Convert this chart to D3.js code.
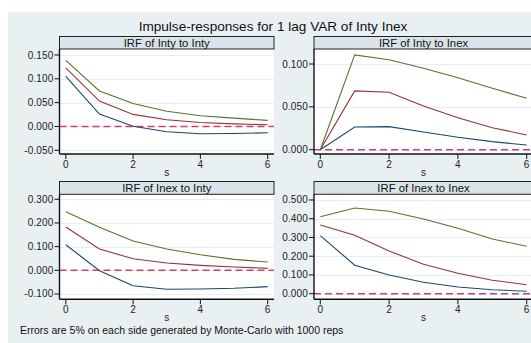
<!DOCTYPE html>
<meta charset="utf-8">
<head>
  <title>Impulse-responses</title>
</head>
<style>
body { margin: 0; background: #fff; }
svg { display: block; font-family: "Liberation Sans", Arial, sans-serif; }
.strip { fill: #d8e4ea; stroke: #222; stroke-width: 1; }
.grid { stroke: #e6eef1; stroke-width: 1; }
.axis { stroke: #111; stroke-width: 1.4; }
.tick { stroke: #111; stroke-width: 1; }
.ticklab { font-size: 10px; fill: #222; letter-spacing: 0.15px; }
.irf { fill: none; stroke-width: 1.1; }
.zero { stroke: #d2406a; stroke-width: 1.6; stroke-dasharray: 7,4; }
</style>
<body>
<svg width="531" height="343"></svg>
<script src="https://cdnjs.cloudflare.com/ajax/libs/d3/7.8.5/d3.min.js"></script>
<script>
// steps
var steps = [0, 1, 2, 3, 4, 5, 6];

// IRF of Inty to Inty
var irf11 = [0.123, 0.0534, 0.0253, 0.014, 0.0084, 0.0055, 0.0035];
var lo11  = [0.105, 0.026, 0.0006, -0.011, -0.0154, -0.0148, -0.0133];
var hi11  = [0.1386, 0.0745, 0.048, 0.032, 0.0225, 0.0175, 0.0127];

// IRF of Inty to Inex
var irf12 = [0, 0.0686, 0.067, 0.051, 0.0374, 0.0257, 0.0172];
var lo12  = [0, 0.0265, 0.0269, 0.0207, 0.0145, 0.0094, 0.0055];
var hi12  = [0, 0.1106, 0.105, 0.095, 0.084, 0.0717, 0.060];

// IRF of Inex to Inty
var irf21 = [0.183, 0.09, 0.049, 0.031, 0.021, 0.014, 0.0084];
var lo21  = [0.108, -0.0014, -0.065, -0.080, -0.079, -0.076, -0.069];
var hi21  = [0.2475, 0.1816, 0.1238, 0.090, 0.066, 0.0464, 0.035];

// IRF of Inex to Inex
var irf22 = [0.3666, 0.312, 0.228, 0.157, 0.109, 0.0715, 0.048];
var lo22  = [0.31, 0.152, 0.10, 0.061, 0.036, 0.021, 0.013];
var hi22  = [0.411, 0.457, 0.44, 0.399, 0.349, 0.292, 0.253];

var xTicks = [0, 2, 4, 6];
var yTicks11 = [-0.05, 0, 0.05, 0.1, 0.15];
var yTicks12 = [0, 0.05, 0.1];
var yTicks21 = [-0.1, 0, 0.1, 0.2, 0.3];
var yTicks22 = [0, 0.1, 0.2, 0.3, 0.4, 0.5];

var titles = ["IRF of Inty to Inty", "IRF of Inty to Inex", "IRF of Inex to Inty", "IRF of Inex to Inex"];

var svg = d3.select("svg");

// graph region
svg.append("rect").attr("x", 8).attr("y", 12).attr("width", 523).attr("height", 331)
  .attr("fill", "#e9f0f2");

svg.append("text")
  .attr("x", 273).attr("y", 31)
  .attr("text-anchor", "middle")
  .style("font-size", "13.6px").attr("fill", "#111")
  .text("Impulse-responses for 1 lag VAR of Inty Inex");

svg.append("text")
  .attr("x", 20).attr("y", 334)
  .style("font-size", "10.5px").attr("fill", "#111")
  .text("Errors are 5% on each side generated by Monte-Carlo with 1000 reps");

var fmt = function(v) { return d3.format(".3f")(v).replace("\u2212", "-"); };

var cols = [[59.5, 274], [314, 533]];
var rows = [[36.5, 49, 154], [181.5, 194.3, 299.3]];

var panels = [
  {col: 0, row: 0, dom: [-0.0578, 0.1626], ticks: yTicks11, lo: lo11, mid: irf11, hi: hi11},
  {col: 1, row: 0, dom: [-0.005, 0.1175], ticks: yTicks12, lo: lo12, mid: irf12, hi: hi12},
  {col: 0, row: 1, dom: [-0.1224, 0.3211], ticks: yTicks21, lo: lo21, mid: irf21, hi: hi21},
  {col: 1, row: 1, dom: [-0.030, 0.5304], ticks: yTicks22, lo: lo22, mid: irf22, hi: hi22}
];

var colors = {lo: "#1a476f", mid: "#90353b", hi: "#55752f"};

panels.forEach(function(p, i) {
  var x0 = cols[p.col][0], x1 = cols[p.col][1];
  var sTop = rows[p.row][0], pTop = rows[p.row][1], pBot = rows[p.row][2];

  var x = d3.scaleLinear().domain([0, 6]).range([x0 + 6.3, x1 - 6.3]);
  var y = d3.scaleLinear().domain(p.dom).range([pBot, pTop]);

  var g = svg.append("g");

  g.append("rect").attr("x", x0).attr("y", pTop).attr("width", x1 - x0).attr("height", pBot - pTop)
    .attr("fill", "#fff");

  g.selectAll("line.grid").data(p.ticks).enter().append("line")
    .attr("class", "grid")
    .attr("x1", x0).attr("x2", x1)
    .attr("y1", function(d) { return Math.round(y(d)) + 0.5; })
    .attr("y2", function(d) { return Math.round(y(d)) + 0.5; });

  // zero line
  g.append("line").attr("class", "zero")
    .attr("x1", x0).attr("x2", x1).attr("y1", y(0)).attr("y2", y(0));

  var line = d3.line().x(function(d, j) { return x(steps[j]); }).y(function(d) { return y(d); });
  [["lo", p.lo], ["mid", p.mid], ["hi", p.hi]].forEach(function(s) {
    g.append("path").attr("class", "irf").attr("stroke", colors[s[0]]).attr("d", line(s[1]));
  });

  // strip
  g.append("rect").attr("class", "strip")
    .attr("x", x0).attr("y", sTop).attr("width", x1 - x0).attr("height", pTop - sTop);
  g.append("text")
    .attr("x", (x0 + x1) / 2).attr("y", sTop + 10)
    .attr("text-anchor", "middle")
    .style("font-size", "11.3px").attr("fill", "#111")
    .text(titles[i]);

  // axes
  g.append("line").attr("class", "axis").attr("x1", x0).attr("x2", x0).attr("y1", pTop).attr("y2", pBot);
  g.append("line").attr("class", "axis").attr("x1", x0).attr("x2", x1).attr("y1", pBot).attr("y2", pBot);

  g.selectAll("line.yt").data(p.ticks).enter().append("line")
    .attr("class", "tick")
    .attr("x1", x0 - 5).attr("x2", x0)
    .attr("y1", function(d) { return y(d); }).attr("y2", function(d) { return y(d); });
  g.selectAll("text.yl").data(p.ticks).enter().append("text")
    .attr("class", "ticklab")
    .attr("x", x0 - 6).attr("y", function(d) { return y(d) + 3.5; })
    .attr("text-anchor", "end")
    .text(fmt);

  g.selectAll("line.xt").data(xTicks).enter().append("line")
    .attr("class", "tick")
    .attr("x1", function(d) { return x(d); }).attr("x2", function(d) { return x(d); })
    .attr("y1", pBot).attr("y2", pBot + 5);
  g.selectAll("text.xl").data(xTicks).enter().append("text")
    .attr("class", "ticklab")
    .attr("x", function(d) { return x(d); }).attr("y", pBot + 13.5)
    .attr("text-anchor", "middle")
    .text(function(d) { return d; });

  g.append("text").attr("class", "ticklab")
    .attr("x", (x0 + x1) / 2).attr("y", pBot + 22)
    .attr("text-anchor", "middle")
    .text("s");
});
</script>
</body>
</html>
